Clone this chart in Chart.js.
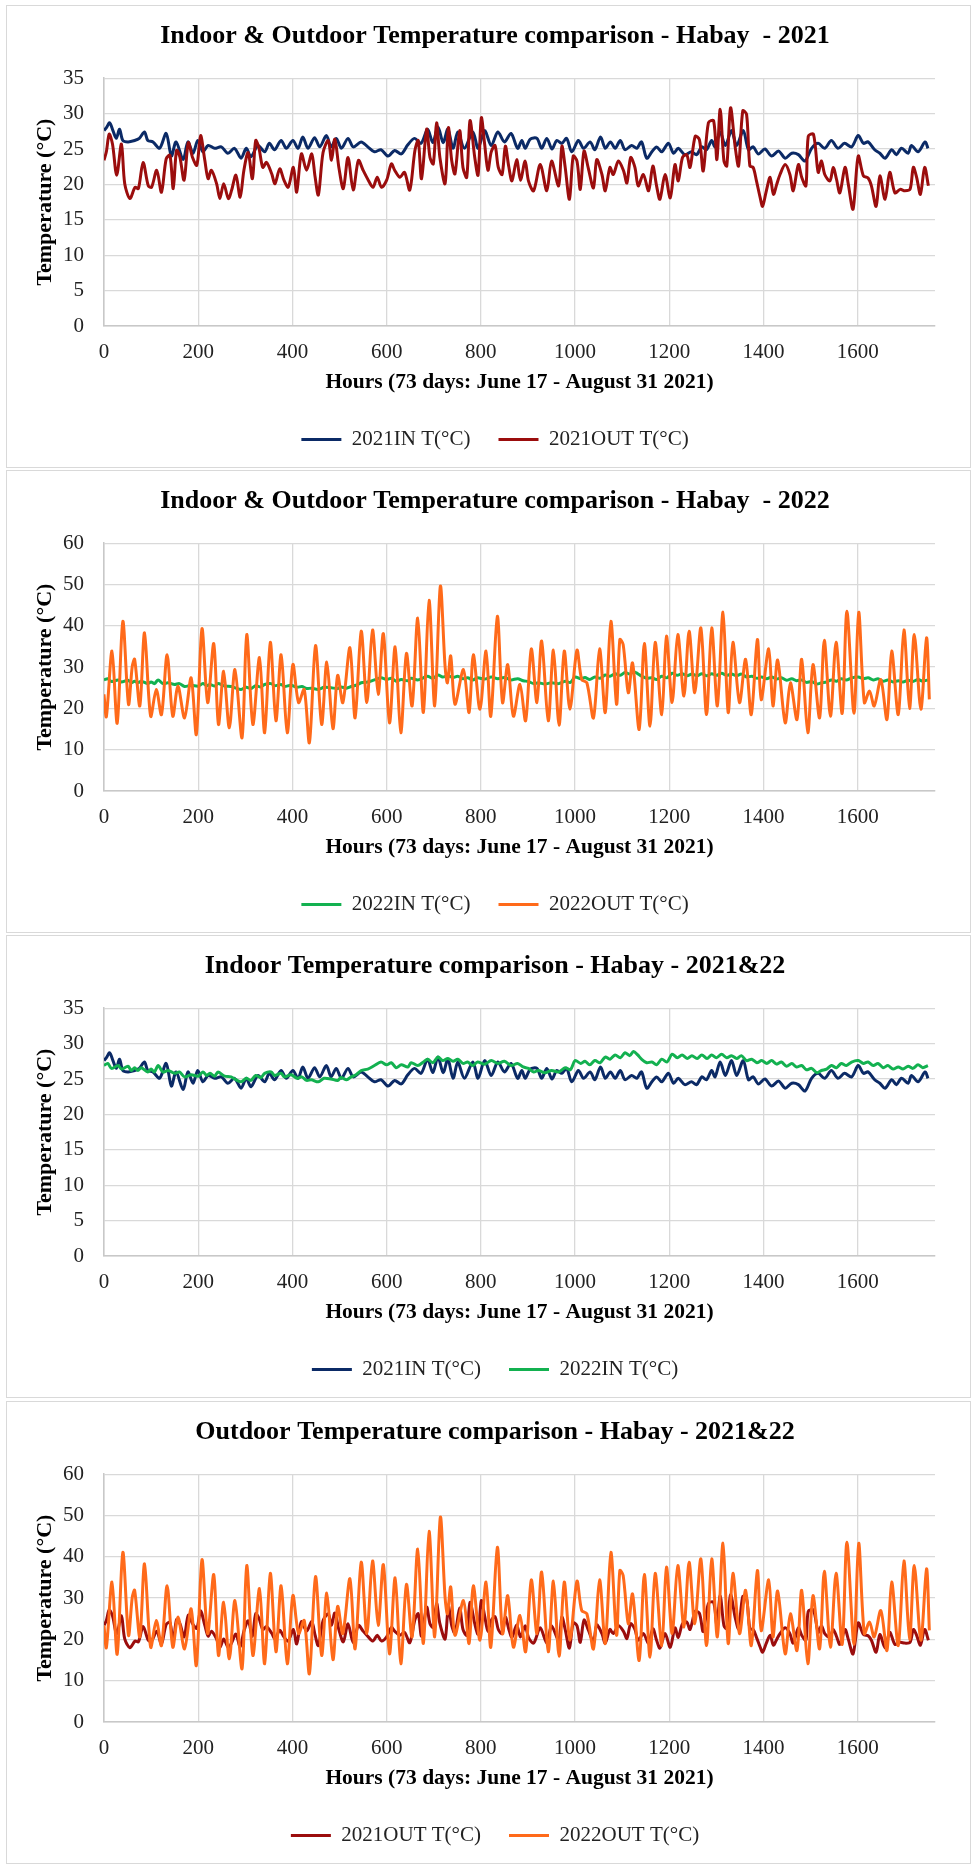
<!DOCTYPE html>
<html>
<head>
<meta charset="utf-8">
<script src="https://cdn.jsdelivr.net/npm/chart.js@4.4.1/dist/chart.umd.min.js"></script>
<style>
  body { margin: 0; background: #fff; }
  .panel { position: absolute; left: 6px; width: 963px; height: 461px; border: 1px solid #d9d9d9; }
  canvas { display: block; }
</style>
</head>
<body>
<div class="panel" style="top:5px"><canvas id="chart1" width="963" height="461"></canvas></div>
<div class="panel" style="top:470px"><canvas id="chart2" width="963" height="461"></canvas></div>
<div class="panel" style="top:935px"><canvas id="chart3" width="963" height="461"></canvas></div>
<div class="panel" style="top:1401px"><canvas id="chart4" width="963" height="461"></canvas></div>
<script>
// values (hour, temperature in °C)
const in21Hours = [0,6,12,19,26,33,40,51,65,75,86,93,104,118,132,143,153,168,178,189,199,210,221,235,249,263,277,291,302,312,327,341,351,362,376,387,401,412,422,433,447,458,472,482,493,504,518,529,546,560,574,588,603,617,631,645,659,673,687,698,709,720,730,741,751,765,783,794,808,822,836,850,864,878,887,894,905,919,929,940,951,961,972,982,993,1007,1018,1032,1042,1054,1064,1075,1085,1096,1106,1120,1131,1141,1152,1163,1173,1184,1198,1209,1219,1233,1247,1258,1269,1279,1290,1297,1308,1319,1332,1343,1357,1368,1378,1389,1403,1417,1432,1446,1460,1474,1488,1502,1516,1530,1544,1558,1572,1587,1601,1612,1622,1636,1647,1658,1672,1682,1693,1707,1714,1728,1743,1749];
const in21Temps = [27.6,28.1,28.7,27.6,26.5,27.8,26.2,26.0,26.2,26.5,27.4,26.2,26.0,25.1,27.2,24.0,26.0,23.5,26.0,24.4,26.2,24.6,25.5,25.1,25.3,24.4,25.1,23.7,25.1,23.9,25.5,24.6,25.8,24.9,26.2,25.1,26.2,25.1,26.7,25.1,26.6,25.3,26.9,25.3,26.5,25.1,26.5,25.3,26.0,25.3,24.6,24.9,24.0,24.8,24.3,25.6,26.5,25.8,27.8,25.9,28.1,25.9,27.8,25.1,27.4,25.1,27.4,25.1,27.6,25.5,27.4,26.0,27.2,25.1,26.2,25.1,26.4,26.5,25.1,26.5,25.0,26.2,25.8,26.5,24.6,26.2,25.1,26.0,24.9,26.7,25.1,26.0,25.1,26.2,24.9,25.5,25.1,26.0,23.7,24.6,25.3,24.6,25.8,24.4,25.1,24.2,24.6,24.2,25.3,24.9,26.2,25.3,27.4,25.5,27.6,25.5,27.6,24.9,25.3,24.3,25.0,24.0,24.7,23.7,24.4,24.2,23.3,25.1,25.8,25.1,26.2,25.1,25.8,25.3,26.9,25.8,26.0,24.9,24.4,23.7,24.9,24.2,25.1,24.4,25.5,24.6,26.0,25.1];

const out21Hours = [0,5,11,18,27,37,44,55,66,73,83,94,101,112,122,132,140,147,154,161,170,179,188,197,205,214,221,228,239,246,254,264,271,280,289,297,306,315,322,329,337,345,356,363,373,382,391,402,409,419,430,441,448,455,465,476,483,490,499,508,518,529,540,550,561,571,580,589,600,610,617,628,638,649,660,667,674,685,692,699,706,713,724,731,738,745,755,762,770,777,787,794,801,808,815,822,830,837,845,852,859,866,876,884,894,901,912,926,940,950,965,972,979,988,996,1004,1011,1019,1028,1039,1046,1057,1064,1074,1081,1092,1103,1110,1118,1127,1134,1145,1156,1165,1173,1180,1191,1202,1212,1219,1228,1237,1244,1255,1264,1272,1283,1294,1301,1308,1316,1322,1330,1340,1347,1356,1364,1371,1378,1385,1393,1398,1406,1414,1421,1428,1435,1446,1456,1463,1474,1481,1490,1495,1506,1516,1523,1530,1541,1548,1555,1562,1573,1580,1590,1601,1612,1622,1629,1639,1647,1658,1668,1679,1690,1700,1711,1718,1725,1733,1742,1750];
const out21Temps = [23.4,24.6,27.1,25.7,21.3,25.7,20.1,18.0,19.6,19.4,23.1,19.8,19.6,22.0,18.9,23.6,24.1,19.4,24.8,23.9,20.6,25.9,23.8,22.7,26.9,23.4,20.8,22.0,20.1,18.0,20.1,18.0,19.2,21.3,18.2,22.0,24.5,20.8,26.2,25.1,22.4,23.1,21.5,20.1,22.2,20.6,19.6,22.4,18.9,24.3,22.0,24.3,21.1,18.5,24.5,26.2,23.4,26.4,22.2,19.4,23.8,19.2,23.4,22.0,20.6,19.6,21.0,19.6,20.6,22.9,22.0,21.0,21.7,19.2,24.8,26.2,20.8,27.8,23.8,22.9,28.7,23.8,20.1,28.0,23.4,21.5,27.6,22.4,21.0,29.0,23.8,21.3,29.4,25.7,22.0,24.6,25.5,22.4,21.4,25.4,22.6,20.5,23.5,20.6,23.3,20.5,19.1,22.8,19.1,23.3,19.8,25.4,22.4,17.9,24.0,23.3,19.3,24.7,22.3,19.5,23.5,21.4,19.1,22.4,21.4,23.3,21.9,20.2,23.8,22.4,19.8,21.4,19.1,22.6,19.8,17.9,21.4,18.1,22.8,20.5,23.8,24.2,22.4,26.8,26.3,21.9,28.7,29.0,23.5,30.6,23.3,22.6,30.8,25.2,22.6,30.4,29.9,22.6,22.4,20.5,18.1,16.9,19.1,21.0,18.6,20.0,21.4,22.8,21.4,19.1,22.8,21.0,19.8,26.8,27.1,21.7,23.3,21.4,20.5,22.4,20.7,18.8,22.4,20.0,16.5,24.0,21.2,20.9,19.8,16.9,21.2,17.9,21.7,18.8,19.3,19.1,19.3,22.4,21.0,18.6,22.4,19.8];

const in22Hours = [0,8,16,30,37,51,58,65,72,79,93,100,107,115,125,136,150,160,171,185,200,210,218,225,235,242,256,270,280,291,302,312,322,333,341,355,362,376,383,397,410,420,430,440,455,467,482,496,503,515,525,535,546,560,574,588,600,610,620,631,645,652,666,678,687,698,709,719,730,741,751,762,772,783,793,808,822,836,850,864,878,890,901,912,922,936,950,965,979,990,1000,1012,1021,1031,1042,1053,1064,1074,1085,1096,1106,1116,1124,1133,1141,1152,1163,1173,1184,1195,1206,1217,1227,1238,1248,1259,1269,1280,1290,1300,1311,1322,1332,1343,1353,1364,1375,1386,1396,1407,1417,1428,1438,1449,1460,1470,1481,1491,1502,1513,1523,1534,1544,1555,1565,1576,1587,1601,1612,1622,1633,1643,1654,1664,1675,1686,1696,1707,1717,1728,1738,1749];
const in22Temps = [26.9,27.2,26.5,26.9,26.4,26.8,26.2,26.6,26.2,26.6,26.0,26.4,26.0,26.9,26.0,26.2,25.8,26.0,25.3,25.6,25.4,26.0,25.5,25.8,25.4,26.0,25.4,25.3,24.9,24.6,25.1,24.8,25.5,25.2,25.8,26.0,25.5,25.8,25.3,25.6,25.1,25.3,24.8,24.9,24.6,25.1,25.0,24.8,25.2,24.9,25.3,25.6,26.2,26.4,26.9,27.4,27.0,27.3,26.6,27.0,26.7,27.3,26.9,27.4,27.8,27.3,28.1,27.6,27.9,27.5,27.8,27.2,27.4,26.9,27.4,27.1,27.6,27.2,27.5,26.9,27.2,26.7,26.5,26.0,26.2,25.9,26.2,26.0,26.6,26.3,27.6,27.2,27.5,27.0,27.6,27.3,28.1,27.8,28.4,28.0,28.7,28.3,28.9,28.4,27.8,27.3,27.4,27.0,27.8,27.4,28.5,28.0,28.4,27.9,28.3,27.9,28.4,27.9,28.4,28.0,28.5,28.0,28.3,27.9,28.3,27.6,27.8,27.3,27.6,27.2,27.6,27.1,27.4,26.8,27.2,26.7,26.9,26.3,26.5,25.9,26.2,26.4,26.9,26.6,27.2,26.9,27.4,27.6,27.2,27.4,26.9,27.2,26.6,26.9,26.4,26.7,26.4,26.8,26.5,27.0,26.6,26.9];

const out22Hours = [0,5,17,28,40,52,60,65,76,86,99,111,122,134,146,157,171,185,196,208,220,233,243,254,266,278,293,303,316,330,341,353,365,376,389,401,413,425,436,449,462,473,486,496,507,522,533,546,558,570,582,593,606,618,630,642,654,666,678,690,702,714,724,729,736,745,763,775,784,798,811,821,835,846,857,869,883,895,907,919,929,943,954,966,977,989,1004,1014,1025,1039,1052,1064,1076,1088,1095,1102,1113,1122,1136,1147,1159,1170,1184,1194,1206,1218,1231,1242,1254,1267,1279,1290,1302,1314,1325,1335,1349,1362,1374,1387,1395,1411,1420,1430,1446,1457,1471,1481,1494,1505,1519,1529,1542,1554,1567,1577,1592,1602,1614,1625,1635,1649,1662,1672,1686,1698,1710,1720,1734,1746,1752];
const out22Temps = [23.4,18.0,33.9,16.4,41.1,21.0,30.2,31.9,20.6,38.3,18.1,24.6,18.5,33.0,18.1,25.4,17.7,27.4,13.7,39.3,21.4,35.7,16.1,29.0,15.3,29.4,12.9,37.9,16.1,32.3,14.1,36.0,17.0,33.0,14.1,30.6,21.4,24.6,11.7,35.2,16.1,31.2,15.1,28.0,21.4,34.7,17.7,38.7,21.4,39.0,23.4,38.1,16.5,34.9,14.1,33.3,20.6,41.9,19.0,46.2,20.6,49.6,30.2,26.2,32.7,21.0,29.4,19.0,33.0,19.8,33.9,18.1,42.3,21.4,30.6,18.1,25.8,17.0,34.4,21.4,36.3,17.0,34.1,15.9,33.9,19.8,34.1,27.0,26.2,17.7,34.4,19.0,41.1,21.0,36.7,35.5,23.8,31.0,14.9,35.7,15.7,36.0,18.5,37.5,21.4,37.9,23.0,38.7,23.8,39.5,18.5,39.5,20.6,43.3,19.0,36.0,21.4,31.9,18.5,36.7,22.1,34.4,20.6,31.7,16.5,26.2,17.3,31.9,14.1,30.6,17.7,36.5,18.1,36.0,18.8,43.5,18.8,43.3,21.4,24.2,20.6,27.0,17.3,33.9,18.5,39.0,20.0,37.9,19.8,37.1,22.2];

const xTickValues = [0, 200, 400, 600, 800, 1000, 1200, 1400, 1600];

const seriesNames = ['2021IN T(°C)', '2021OUT T(°C)', '2022IN T(°C)', '2022OUT T(°C)'];
const seriesColors = ['#0b2a66', '#9b0d0d', '#13b150', '#ff6a1a'];

const FONT = "'Liberation Serif', 'Times New Roman', serif";
const xTitle = 'Hours (73 days: June 17 - August 31 2021)';

function toPoints(hours, temps) {
  return hours.map((h, i) => ({ x: h, y: temps[i] }));
}

const in21 = toPoints(in21Hours, in21Temps);
const out21 = toPoints(out21Hours, out21Temps);
const in22 = toPoints(in22Hours, in22Temps);
const out22 = toPoints(out22Hours, out22Temps);

function makeDataset(label, color, data, order) {
  return {
    label,
    data,
    borderColor: color,
    backgroundColor: color,
    borderWidth: 3,
    pointRadius: 0,
    tension: 0.3,
    order,
  };
}

function makeChart(id, title, yMax, yStep, first, second) {
  new Chart(document.getElementById(id), {
    type: 'line',
    data: {
      datasets: [
        makeDataset(first.label, first.color, first.data, 1),
        makeDataset(second.label, second.color, second.data, 0),
      ],
    },
    options: {
      responsive: false,
      animation: false,
      events: [],
      layout: { padding: { left: 13, right: 0, top: 0, bottom: 7 } },
      plugins: {
        title: {
          display: true,
          text: title,
          color: '#000',
          font: { family: FONT, size: 26, weight: 'bold' },
          padding: { top: 15, bottom: 26 },
        },
        legend: {
          position: 'bottom',
          labels: {
            usePointStyle: true,
            pointStyle: 'line',
            pointStyleWidth: 40,
            padding: 28,
            color: '#222',
            font: { family: FONT, size: 21 },
            sort: (a, b) => a.datasetIndex - b.datasetIndex,
          },
        },
        tooltip: { enabled: false },
      },
      scales: {
        x: {
          type: 'linear',
          min: 0,
          max: 1764,
          afterBuildTicks(scale) {
            scale.ticks = xTickValues.map((v) => ({ value: v }));
          },
          ticks: {
            autoSkip: false,
            maxRotation: 0,
            padding: 14,
            color: '#222',
            font: { family: FONT, size: 21 },
            callback: (v) => String(v),
          },
          grid: { color: '#d9d9d9', lineWidth: 1.3, drawTicks: false },
          border: { color: '#c8c8c8', width: 1.5 },
          title: {
            display: true,
            text: xTitle,
            color: '#000',
            font: { family: FONT, size: 21.5, weight: 'bold' },
            padding: { top: 0, bottom: 6 },
          },
          afterFit(scale) { scale.height = 75; },
        },
        y: {
          min: 0,
          max: yMax,
          ticks: {
            stepSize: yStep,
            padding: 20,
            color: '#222',
            font: { family: FONT, size: 21 },
          },
          grid: { color: '#d9d9d9', lineWidth: 1.3, drawTicks: false },
          border: { color: '#c8c8c8', width: 1.5 },
          title: {
            display: true,
            text: 'Temperature (°C)',
            color: '#000',
            font: { family: FONT, size: 22, weight: 'bold' },
            padding: { top: 12, bottom: 0 },
          },
          afterFit(scale) { scale.width = 84; },
        },
        // empty right-hand axis only to keep the plot clear of the right edge
        yRight: {
          position: 'right',
          grid: { display: false },
          ticks: { display: false },
          border: { display: false },
          afterFit(scale) { scale.width = 35; },
        },
      },
    },
  });
}

makeChart('chart1', 'Indoor & Outdoor Temperature comparison - Habay  - 2021', 35, 5,
  { label: seriesNames[0], color: seriesColors[0], data: in21 },
  { label: seriesNames[1], color: seriesColors[1], data: out21 });

makeChart('chart2', 'Indoor & Outdoor Temperature comparison - Habay  - 2022', 60, 10,
  { label: seriesNames[2], color: seriesColors[2], data: in22 },
  { label: seriesNames[3], color: seriesColors[3], data: out22 });

makeChart('chart3', 'Indoor Temperature comparison - Habay - 2021&22', 35, 5,
  { label: seriesNames[0], color: seriesColors[0], data: in21 },
  { label: seriesNames[2], color: seriesColors[2], data: in22 });

makeChart('chart4', 'Outdoor Temperature comparison - Habay - 2021&22', 60, 10,
  { label: seriesNames[1], color: seriesColors[1], data: out21 },
  { label: seriesNames[3], color: seriesColors[3], data: out22 });
</script>
</body>
</html>
